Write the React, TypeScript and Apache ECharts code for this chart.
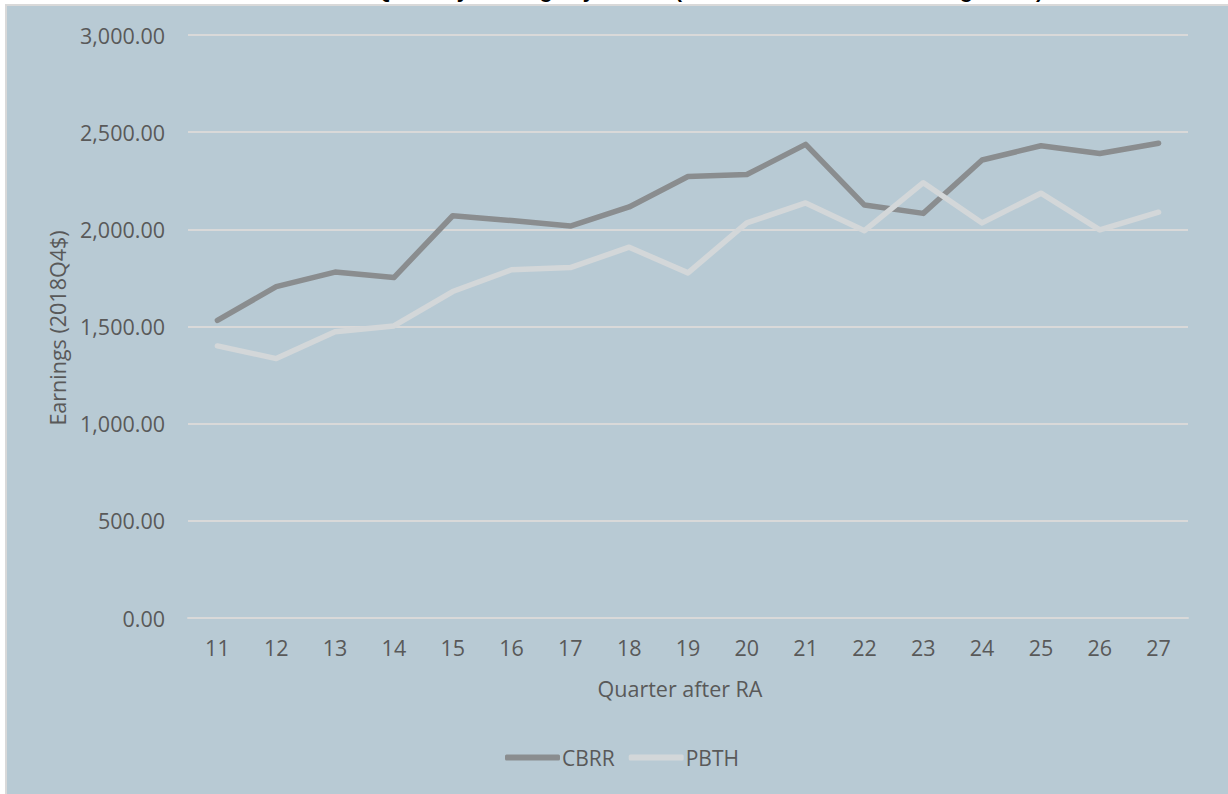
import React, { useEffect, useRef } from "react";
import * as echarts from "echarts";

const titleText = "Mean CBRR vs. PBTH Quarterly Earnings by Cohort (after alternate Random Assignment)";
const quarters = ["11", "12", "13", "14", "15", "16", "17", "18", "19", "20", "21", "22", "23", "24", "25", "26", "27"];
const cbrr = [1532, 1705, 1780, 1752, 2070, 2045, 2017, 2115, 2272, 2282, 2437, 2125, 2082, 2357, 2430, 2390, 2443];
const pbth = [1400, 1335, 1473, 1503, 1680, 1792, 1803, 1908, 1776, 2033, 2136, 1993, 2240, 2033, 2186, 1997, 2088];
const yAxisName = "Earnings (2018Q4$)";
const xAxisName = "Quarter after RA";

const FONT = "'Open Sans', sans-serif";
const TXT = "#595959";
const FS = 21.5;

export default function App() {
  const ref = useRef<HTMLDivElement>(null);
  useEffect(() => {
    if (!ref.current) return;
    const chart = echarts.init(ref.current, null, { renderer: "svg" });
    chart.setOption({
      animation: false,
      backgroundColor: "#ffffff",
      textStyle: { fontFamily: FONT },
      graphic: [
        {
          type: "rect",
          z: -10,
          silent: true,
          shape: { x: 6, y: 5, width: 1224, height: 792 },
          style: { fill: "#b8cad4", stroke: "#d9d9d9", lineWidth: 2 },
        },
        {
          type: "text",
          x: 597,
          y: 1,
          silent: true,
          style: {
            text: titleText,
            fill: "#000000",
            font: "bold 21px 'Liberation Sans', Arial, sans-serif",
            textAlign: "center",
            textVerticalAlign: "bottom",
          },
        },
        {
          type: "text",
          x: 57,
          y: 328,
          rotation: Math.PI / 2,
          silent: true,
          style: {
            text: yAxisName,
            fill: TXT,
            font: FS + "px 'Open Sans', sans-serif",
            textAlign: "center",
            textVerticalAlign: "middle",
          },
        },
        {
          type: "text",
          x: 680,
          y: 688,
          silent: true,
          style: {
            text: xAxisName,
            fill: TXT,
            font: FS + "px 'Open Sans', sans-serif",
            textAlign: "center",
            textVerticalAlign: "middle",
          },
        },
      ],
      grid: { left: 188, right: 40, top: 35, bottom: 176, containLabel: false },
      legend: {
        bottom: 21,
        left: 500,
        icon: "roundRect",
        itemWidth: 55,
        itemHeight: 6,
        itemGap: 14,
        textStyle: { color: TXT, fontSize: 21, fontFamily: FONT, padding: [0, 0, 0, -3] },
        data: ["CBRR", "PBTH"],
      },
      xAxis: {
        type: "category",
        data: quarters,
        boundaryGap: true,
        axisLine: { show: true, lineStyle: { color: "#d9d9d9", width: 2 } },
        axisTick: { show: false },
        axisLabel: { color: TXT, fontSize: FS, fontFamily: FONT, margin: 18 },
      },
      yAxis: {
        type: "value",
        min: 0,
        max: 3000,
        interval: 500,
        axisLine: { show: false },
        axisTick: { show: false },
        splitLine: { lineStyle: { color: "#d9d9d9", width: 2 } },
        axisLabel: {
          color: TXT,
          fontSize: FS,
          fontFamily: FONT,
          margin: 23,
          formatter: (v: number) =>
            v.toLocaleString("en-US", { minimumFractionDigits: 2, maximumFractionDigits: 2 }),
        },
      },
      series: [
        {
          name: "CBRR",
          type: "line",
          data: cbrr,
          symbol: "none",
          color: "#8a8d8f",
          lineStyle: { width: 5.5, color: "#8a8d8f", cap: "round", join: "round" },
        },
        {
          name: "PBTH",
          type: "line",
          data: pbth,
          symbol: "none",
          color: "#d3d7d9",
          lineStyle: { width: 5.5, color: "#d3d7d9", cap: "round", join: "round" },
        },
      ],
    });
    return () => chart.dispose();
  }, []);
  return (
    <div
      ref={ref}
      style={{ position: "absolute", left: 0, top: 0, width: 1228, height: 794 }}
    />
  );
}
